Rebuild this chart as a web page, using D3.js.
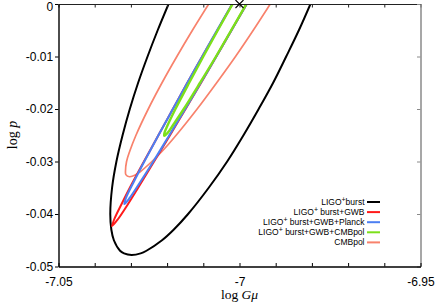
<!DOCTYPE html>
<html>
<head>
<meta charset="utf-8">
<script src="https://cdn.jsdelivr.net/npm/d3@7"></script>
<style>
  html, body { margin: 0; padding: 0; background: #fff; }
  svg { display: block; }
</style>
</head>
<body>
<svg id="chart" width="436" height="307"></svg>
<script>
// contours, points are [log Gmu, log p]
const burst = [
  [-7.0196, 0], [-7.0226, -0.005], [-7.0254, -0.010], [-7.0280, -0.015], [-7.0303, -0.020],
  [-7.0323, -0.025], [-7.0340, -0.030], [-7.0352, -0.035], [-7.0357, -0.040], [-7.0354, -0.043],
  [-7.0347, -0.045], [-7.0330, -0.047], [-7.0319, -0.0475], [-7.0298, -0.0478], [-7.0273, -0.0475],
  [-7.0257, -0.047], [-7.0214, -0.045], [-7.0182, -0.043], [-7.0142, -0.040], [-7.0085, -0.035],
  [-7.0034, -0.030], [-6.9989, -0.025], [-6.9947, -0.020], [-6.9907, -0.015], [-6.9871, -0.010],
  [-6.9836, -0.005], [-6.9804, 0]
];
const burstGwb = [
  [-7.0020, 0], [-7.0061, -0.005], [-7.0103, -0.010], [-7.0144, -0.015], [-7.0184, -0.020],
  [-7.0224, -0.025], [-7.0264, -0.030], [-7.0303, -0.035], [-7.0325, -0.038], [-7.0346, -0.041],
  [-7.0352, -0.0423], [-7.0336, -0.041], [-7.0307, -0.038], [-7.0280, -0.035], [-7.0236, -0.030],
  [-7.0192, -0.025], [-7.0149, -0.020], [-7.0106, -0.015], [-7.0064, -0.010], [-7.0022, -0.005],
  [-6.9980, 0]
];
const burstGwbPlanck = [
  [-7.0020, 0], [-7.0062, -0.005], [-7.0103, -0.010], [-7.0144, -0.015], [-7.0184, -0.020],
  [-7.0224, -0.025], [-7.0263, -0.030], [-7.0293, -0.034], [-7.0314, -0.037], [-7.0318, -0.0381],
  [-7.0304, -0.037], [-7.0275, -0.034], [-7.0238, -0.030], [-7.0194, -0.025], [-7.0150, -0.020],
  [-7.0107, -0.015], [-7.0064, -0.010], [-7.0022, -0.005], [-6.9980, 0]
];
const burstGwbCmbpol = [
  [-7.0019, 0], [-7.0060, -0.005], [-7.0100, -0.010], [-7.0139, -0.015], [-7.0177, -0.020],
  [-7.0198, -0.023], [-7.0207, -0.0245], [-7.0208, -0.0251], [-7.0198, -0.0245], [-7.0183, -0.023],
  [-7.0154, -0.020], [-7.0109, -0.015], [-7.0065, -0.010], [-7.0023, -0.005], [-6.9981, 0]
];
const cmbpol = [
  [-7.0085, 0], [-7.0130, -0.005], [-7.0173, -0.010], [-7.0214, -0.015], [-7.0252, -0.020],
  [-7.0286, -0.025], [-7.0303, -0.028], [-7.0312, -0.030], [-7.0315, -0.032], [-7.0314, -0.0325],
  [-7.0304, -0.0329], [-7.0286, -0.0325], [-7.0275, -0.032], [-7.0242, -0.030], [-7.0213, -0.028],
  [-7.0175, -0.025], [-7.0117, -0.020], [-7.0063, -0.015], [-7.0011, -0.010], [-6.9962, -0.005],
  [-6.9915, 0]
];
const fiducial = [-7, 0];

const xTicks = [-7.05, -7.04, -7.03, -7.02, -7.01, -7.0, -6.99, -6.98, -6.97, -6.96, -6.95];
const xLabelVals = [-7.05, -7.0, -6.95];
const xTickLabels = ["-7.05", "-7", "-6.95"];
const yTicks = [0, -0.01, -0.02, -0.03, -0.04, -0.05];
const yTickLabels = ["0", "-0.01", "-0.02", "-0.03", "-0.04", "-0.05"];

const legendLabels = ["LIGO+burst", "LIGO+ burst+GWB", "LIGO+ burst+GWB+Planck", "LIGO+ burst+GWB+CMBpol", "CMBpol"];
const legendColors = ["#000000", "#ff1a1a", "#4c7ff2", "#7ce01a", "#f8826c"];

const svg = d3.select("#chart");
const W = 436, H = 307;
const margin = { top: 4, right: 15.5, bottom: 40.5, left: 58.5 };
const x = d3.scaleLinear().domain([-7.05, -6.95]).range([margin.left, W - margin.right]);
const y = d3.scaleLinear().domain([-0.05, 0]).range([H - margin.bottom, margin.top]);

svg.append("rect").attr("width", W).attr("height", H).attr("fill", "#fff");

svg.append("clipPath").attr("id", "plot")
  .append("rect")
  .attr("x", x(-7.05)).attr("y", y(0))
  .attr("width", x(-6.95) - x(-7.05)).attr("height", y(-0.05) - y(0));

const line = d3.line()
  .x(d => x(d[0]))
  .y(d => y(d[1]))
  .curve(d3.curveCatmullRom.alpha(0.5));

// draw order: pink under, green on top
const curves = [
  { pts: cmbpol, color: legendColors[4], w: 1.7 },
  { pts: burst, color: legendColors[0], w: 2 },
  { pts: burstGwb, color: legendColors[1], w: 2 },
  { pts: burstGwbPlanck, color: legendColors[2], w: 2.1 },
  { pts: burstGwbCmbpol, color: legendColors[3], w: 2.4 }
];

const cg = svg.append("g").attr("clip-path", "url(#plot)");
cg.selectAll("path.c")
  .data(curves)
  .join("path")
  .attr("class", "c")
  .attr("d", d => line(d.pts))
  .attr("fill", "none")
  .attr("stroke", d => d.color)
  .attr("stroke-width", d => d.w)
  .attr("stroke-linejoin", "round");

// axes
function styleAxis(g, color, width) {
  g.selectAll("path.domain").attr("stroke", color).attr("stroke-width", width);
  g.selectAll(".tick line").attr("stroke", color).attr("stroke-width", 1);
  g.selectAll(".tick text")
    .attr("fill", "#000")
    .attr("font-family", "'Liberation Sans', Arial, sans-serif")
    .attr("font-size", 12);
}

svg.append("g")
  .attr("transform", `translate(0,${y(0)})`)
  .call(d3.axisTop(x).tickValues(xTicks).tickSize(-3.5).tickSizeOuter(0).tickFormat(""))
  .call(g => styleAxis(g, "#222", 1.2));

svg.append("g")
  .attr("transform", `translate(${x(-6.95)},0)`)
  .call(d3.axisRight(y).tickValues(yTicks).tickSize(-3.5).tickSizeOuter(0).tickFormat(""))
  .call(g => styleAxis(g, "#8a8a8a", 1.5));

svg.append("g")
  .attr("transform", `translate(0,${y(-0.05)})`)
  .call(d3.axisBottom(x).tickValues(xTicks).tickSize(-3.5).tickSizeOuter(0).tickPadding(11)
    .tickFormat(d => {
      const i = xLabelVals.findIndex(v => Math.abs(v - d) < 1e-9);
      return i < 0 ? "" : xTickLabels[i];
    }))
  .call(g => styleAxis(g, "#000", 1.4));

svg.append("g")
  .attr("transform", `translate(${x(-7.05)},0)`)
  .call(d3.axisLeft(y).tickValues(yTicks).tickSize(3.5).tickSizeOuter(0).tickPadding(1.8)
    .tickFormat((d, i) => yTickLabels[i]))
  .call(g => styleAxis(g, "#000", 1.4))
  // the top label sits a little lower so it is not cut off
  .call(g => g.selectAll(".tick text").filter(d => d === 0).attr("dy", "0.55em"));

// fiducial marker
const fx = x(fiducial[0]), fy = y(fiducial[1]);
svg.append("path")
  .attr("d", `M${fx - 4},${fy - 4}L${fx + 4},${fy + 4}M${fx - 4},${fy + 4}L${fx + 4},${fy - 4}`)
  .attr("stroke", "#000")
  .attr("stroke-width", 1.1)
  .attr("fill", "none");

// axis titles
const xt = svg.append("text")
  .attr("x", x(-7.0)).attr("y", 299)
  .attr("text-anchor", "middle")
  .attr("font-family", "'Liberation Serif', 'Times New Roman', serif")
  .attr("font-size", 13.5);
xt.append("tspan").text("log ");
xt.append("tspan").attr("font-style", "italic").text("Gμ");

const yt = svg.append("text")
  .attr("transform", "translate(17,135) rotate(-90)")
  .attr("text-anchor", "middle")
  .attr("font-family", "'Liberation Serif', 'Times New Roman', serif")
  .attr("font-size", 14);
yt.append("tspan").text("log ");
yt.append("tspan").attr("font-style", "italic").text("p");

// legend
const legend = svg.append("g").attr("transform", "translate(0,202)");
legendLabels.forEach((lab, i) => {
  const row = legend.append("g").attr("transform", `translate(0,${i * 10.1})`);
  row.append("line")
    .attr("x1", 367).attr("x2", 380)
    .attr("y1", 0).attr("y2", 0)
    .attr("stroke", legendColors[i])
    .attr("stroke-width", 2);
  const t = row.append("text")
    .attr("x", 364.5).attr("y", 3)
    .attr("text-anchor", "end")
    .attr("font-family", "'Liberation Sans', Arial, sans-serif")
    .attr("font-size", 8.5);
  if (lab.startsWith("LIGO+")) {
    t.append("tspan").text("LIGO");
    t.append("tspan").attr("dy", -3.5).attr("font-size", 7).text("+");
    t.append("tspan").attr("dy", 3.5).text(lab.slice(5));
  } else {
    t.text(lab);
  }
});
</script>
</body>
</html>
